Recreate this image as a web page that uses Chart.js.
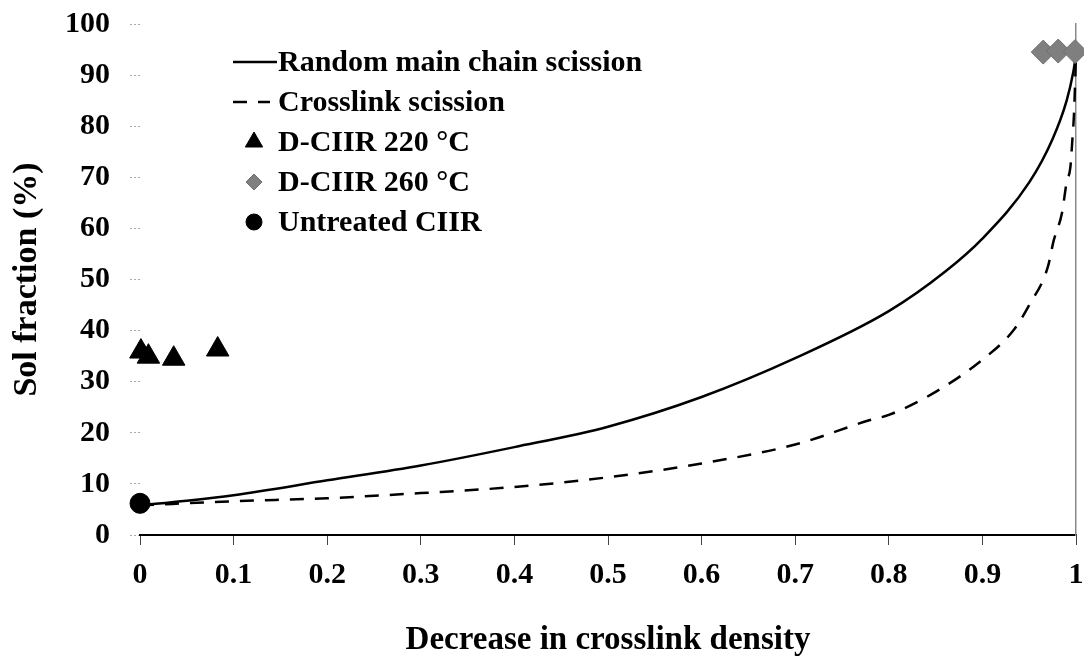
<!DOCTYPE html>
<html>
<head>
<meta charset="utf-8">
<script src="https://cdn.jsdelivr.net/npm/chart.js@4.4.1/dist/chart.umd.min.js"></script>
<style>
  html, body { margin: 0; padding: 0; background: #fff; }
</style>
</head>
<body>
<canvas id="chart" width="1084" height="661"></canvas>
<script>
// curves
const randomX = [0, 0.05, 0.1, 0.2, 0.3, 0.4, 0.5, 0.6, 0.7, 0.8, 0.86, 0.9, 0.95, 0.975, 0.99, 0.997, 1.0];
const randomY = [5.8, 6.7, 7.8, 10.7, 13.6, 17.2, 21.2, 27.0, 34.6, 43.8, 51.5, 58.0, 69.0, 77.5, 85.0, 90.5, 94.0];

const crossX = [0, 0.1, 0.2, 0.3, 0.4, 0.5, 0.6, 0.7, 0.78, 0.8, 0.85, 0.9, 0.933, 0.95, 0.97, 0.976, 0.985, 0.99, 0.994, 0.996, 0.998, 1.0];
const crossY = [5.8, 6.6, 7.2, 8.2, 9.4, 11.3, 14.0, 17.7, 22.5, 23.5, 28.0, 34.3, 40.0, 45.0, 52.5, 57.5, 63.0, 69.0, 72.0, 77.0, 83.0, 94.0];

// measured points
const d220X = [0.001, 0.009, 0.036, 0.083];
const d220Y = [35.9, 34.9, 34.5, 36.3];
const d260X = [0.965, 0.981, 0.999];
const d260Y = [94.5, 94.7, 94.6];
const untreatedX = [0];
const untreatedY = [6.2];

const xTicks = [0, 0.1, 0.2, 0.3, 0.4, 0.5, 0.6, 0.7, 0.8, 0.9, 1];
const yTicks = [0, 10, 20, 30, 40, 50, 60, 70, 80, 90, 100];

const serif = '"Liberation Serif", "Times New Roman", serif';

function pts(xs, ys) {
    return xs.map((x, i) => ({ x: x, y: ys[i] }));
}

// legend drawn inside the plot, top left
const insideLegend = {
    id: 'insideLegend',
    afterDatasetsDraw(chart) {
        const ctx = chart.ctx;
        ctx.save();
        ctx.font = 'bold 30px ' + serif;
        ctx.textBaseline = 'middle';
        chart.data.datasets.forEach((ds, i) => {
            const y = 62 + i * 40;
            if (ds.showLine) {
                ctx.strokeStyle = ds.borderColor;
                ctx.lineWidth = ds.borderWidth;
                ctx.setLineDash(ds.borderDash || []);
                ctx.beginPath();
                ctx.moveTo(233, y);
                ctx.lineTo(ds.borderDash ? 270 : 277, y);
                ctx.stroke();
                ctx.setLineDash([]);
            } else {
                ctx.fillStyle = ds.pointBackgroundColor;
                ctx.strokeStyle = ds.pointBorderColor;
                ctx.lineWidth = 1;
                Chart.helpers.drawPoint(ctx, {
                    pointStyle: ds.pointStyle,
                    radius: ds.legendRadius,
                    rotation: 0,
                    borderWidth: 1
                }, 254, y);
            }
            ctx.fillStyle = '#000';
            ctx.fillText(ds.label, 278, y + 1);
        });
        ctx.restore();
    }
};

new Chart(document.getElementById('chart'), {
    type: 'scatter',
    data: {
        datasets: [
            {
                label: 'Random main chain scission',
                data: pts(randomX, randomY),
                showLine: true,
                borderColor: '#000',
                borderWidth: 2.5,
                pointRadius: 0,
                cubicInterpolationMode: 'monotone',
                clip: false,
                order: 2
            },
            {
                label: 'Crosslink scission',
                data: pts(crossX, crossY),
                showLine: true,
                borderColor: '#000',
                borderWidth: 2.5,
                borderDash: [14, 11],
                pointRadius: 0,
                cubicInterpolationMode: 'monotone',
                clip: false,
                order: 2
            },
            {
                label: 'D-CIIR 220 °C',
                data: pts(d220X, d220Y),
                pointStyle: 'triangle',
                pointRadius: 13,
                legendRadius: 10,
                pointBackgroundColor: '#000',
                pointBorderColor: '#000',
                clip: false,
                order: 0
            },
            {
                label: 'D-CIIR 260 °C',
                data: pts(d260X, d260Y),
                pointStyle: 'rectRot',
                pointRadius: 12,
                legendRadius: 8,
                pointBackgroundColor: '#7f7f7f',
                pointBorderColor: '#707070',
                clip: false,
                order: 0
            },
            {
                label: 'Untreated CIIR',
                data: pts(untreatedX, untreatedY),
                pointStyle: 'circle',
                pointRadius: 10,
                legendRadius: 8,
                pointBackgroundColor: '#000',
                pointBorderColor: '#000',
                clip: false,
                order: 0
            }
        ]
    },
    options: {
        responsive: false,
        animation: false,
        devicePixelRatio: 1,
        layout: { autoPadding: false, padding: { top: 24, left: 0, right: 0, bottom: 0 } },
        plugins: {
            legend: { display: false },
            tooltip: { enabled: false }
        },
        scales: {
            x: {
                type: 'linear',
                min: 0,
                max: 1,
                afterBuildTicks: scale => { scale.ticks = xTicks.map(v => ({ value: v })); },
                afterFit: scale => {
                    scale.height = 126;
                    scale.paddingLeft = 0;
                    scale.paddingRight = 0;
                },
                ticks: {
                    color: '#000',
                    padding: 12,
                    font: { family: serif, size: 30, weight: 'bold' },
                    callback: v => String(Number(v.toFixed(1)))
                },
                grid: { drawOnChartArea: false, tickLength: 10, color: '#444' },
                border: { color: '#000', width: 2 },
                title: {
                    display: true,
                    text: 'Decrease in crosslink density',
                    color: '#000',
                    font: { family: serif, size: 33, weight: 'bold' },
                    padding: { top: 0, bottom: 1 }
                }
            },
            y: {
                min: 0,
                max: 100,
                afterBuildTicks: scale => { scale.ticks = yTicks.map(v => ({ value: v })); },
                afterFit: scale => {
                    scale.width = 140;
                    scale.paddingTop = 0;
                    scale.paddingBottom = 0;
                },
                ticks: {
                    color: '#000',
                    padding: 20,
                    font: { family: serif, size: 30, weight: 'bold' }
                },
                grid: {
                    drawOnChartArea: false,
                    tickLength: 10,
                    color: '#aaa',
                    tickBorderDash: [2, 2]
                },
                border: { display: false },
                title: {
                    display: true,
                    text: 'Sol fraction (%)',
                    color: '#000',
                    font: { family: serif, size: 34, weight: 'bold' },
                    padding: { top: 7, bottom: 0 }
                }
            },
            yRight: {
                position: 'right',
                min: 0,
                max: 100,
                afterFit: scale => {
                    scale.width = 8;
                    scale.paddingTop = 0;
                    scale.paddingBottom = 0;
                },
                ticks: { display: false },
                grid: { display: false },
                border: { display: true, color: '#8a8a8a', width: 1.5, dash: [3, 2] }
            }
        }
    },
    plugins: [insideLegend]
});
</script>
</body>
</html>
